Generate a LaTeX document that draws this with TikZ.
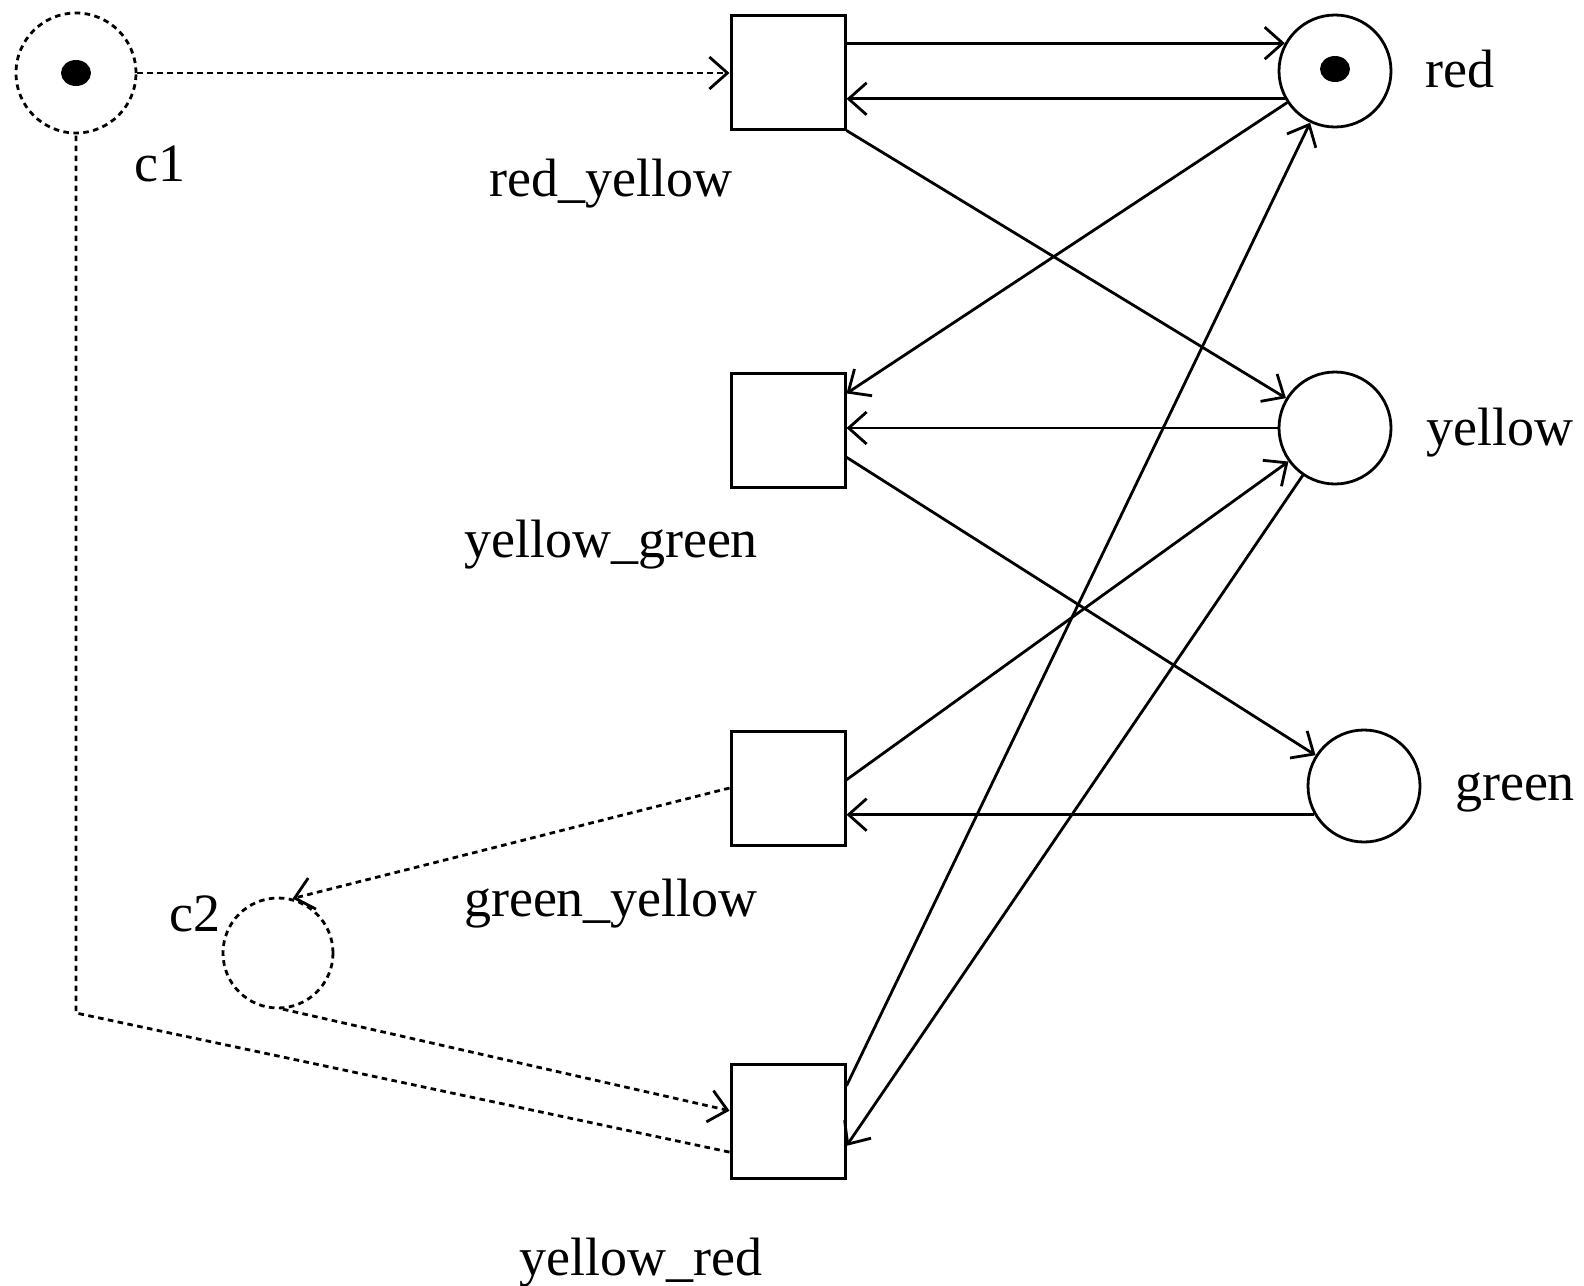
\documentclass[tikz,border=0pt]{standalone}
\usepackage{fontspec}
\setmainfont{Liberation Serif}
\usetikzlibrary{arrows.meta,shapes.geometric}
\tikzset{
  trans/.style={draw, rectangle, minimum size=28.5pt, inner sep=0pt, line width=0.75pt},
  place/.style={draw, circle, minimum size=28pt, inner sep=0pt, line width=0.7pt},
  ctrl/.style={draw, circle, minimum size=30pt, inner sep=0pt, dotline},
  token/.style={fill, ellipse, minimum width=7.5pt, minimum height=6.5pt, inner sep=0pt},
  lbl/.style={inner sep=0pt, font=\fontsize{13.5}{16}\selectfont},
  arr/.style={-{Straight Barb[length=4.5pt,width=8pt]}, line width=0.7pt},
  dotline/.style={dash pattern=on 1.4pt off 1.1pt, line width=0.7pt}
}
\begin{document}
\begin{tikzpicture}[x=0.25pt,y=-0.25pt]
\useasboundingbox (0,0) rectangle (1584,1285);

% control places
\node[ctrl] (c1) at (76,73) {};
\node[token] (tokc1) at (76,73) {};
\node[ctrl,minimum size=27.5pt] (c2) at (278,953) {};
\node[lbl] (c1lbl) at (160,164) {c1};
\node[lbl] (c2lbl) at (195,914) {c2};

% transitions
\node[trans] (ry) at (788,72) {};
\node[trans] (yg) at (788,430) {};
\node[trans] (gy) at (788,788) {};
\node[trans] (yr) at (788,1121) {};
\node[lbl] (rylbl) at (611,184) {red\_yellow};
\node[lbl] (yglbl) at (611,545) {yellow\_green};
\node[lbl] (gylbl) at (611,904) {green\_yellow};
\node[lbl] (yrlbl) at (641,1263) {yellow\_red};

% light places
\node[place] (red) at (1335,71) {};
\node[token] (tokred) at (1335,69) {};
\node[place] (yel) at (1335,428) {};
\node[place] (grn) at (1364,786) {};
\node[lbl] (redlbl) at (1460,69) {red};
\node[lbl] (yellbl) at (1500,433) {yellow};
\node[lbl] (grnlbl) at (1515,792) {green};

\coordinate (kink) at (76,1013);

% solid arcs
\draw[arr] (ry.east |- red.151) -- (red.151);
\draw[arr] (red.209) -- (ry.east |- red.209);
\draw[arr] (ry.south east) -- (yel);
\draw[arr] (red) -- (yg.32);
\draw[arr] (yel.west) -- (yel.west -| yg.east);
\draw[arr] (yg.-25) -- (grn);
\draw[arr] (gy.8) -- (yel);
\draw[arr] (grn.210) -- (grn.210 -| gy.east);
\draw[arr] (yr.31) -- (red);
\draw[arr] (yel) -- (yr.-23);

% dotted control arcs
\draw[arr,dotline] (c1.east) -- (c1.east -| ry.west);
\draw[dotline] (yr.208) -- (kink) -- (c1.south);
\draw[arr,dotline] (gy.west) -- (c2.75);
\draw[arr,dotline] (c2.-85) -- (yr.170);
\end{tikzpicture}
\end{document}
